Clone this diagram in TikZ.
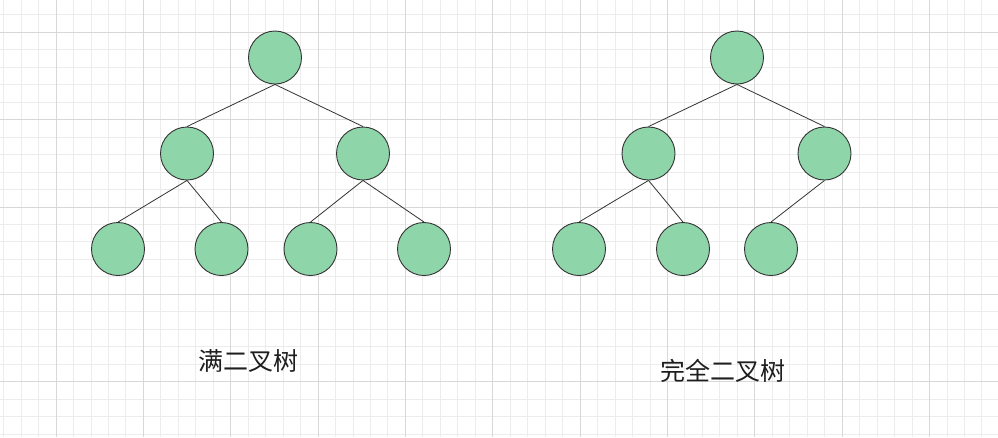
\documentclass[tikz,border=0pt]{standalone}
\usepackage{fontspec}
\newfontfamily\cjk{Noto Sans CJK SC}
\definecolor{nodefill}{RGB}{143,213,170}
\definecolor{nodeline}{RGB}{51,51,51}
\definecolor{gridminor}{RGB}{236,236,236}
\definecolor{gridmajor}{RGB}{216,216,216}
\definecolor{textcol}{RGB}{30,30,30}
\tikzset{
  tnode/.style={circle, draw=nodeline, fill=nodefill, line width=0.9pt, minimum size=53pt, inner sep=0pt},
  tedge/.style={draw=nodeline, line width=0.8pt},
  tlabel/.style={font=\cjk\fontsize{25pt}{30pt}\selectfont, text=textcol, inner sep=0pt}
}
\begin{document}
\begin{tikzpicture}[x=1pt,y=-1pt]
\useasboundingbox (0,0) rectangle (998,437);
\fill[white] (0,0) rectangle (998,437);
% grid
\foreach \i in {0,...,57} {
  \pgfmathsetmacro{\xx}{3.6+17.47*\i}
  \draw[gridminor, line width=0.9pt] (\xx,0) -- (\xx,437);
}
\foreach \i in {0,...,24} {
  \pgfmathsetmacro{\yy}{14.8+17.47*\i}
  \draw[gridminor, line width=0.9pt] (0,\yy) -- (998,\yy);
}
\foreach \i in {0,...,11} {
  \pgfmathsetmacro{\xx}{56+87.35*\i}
  \draw[gridmajor, line width=0.9pt] (\xx,0) -- (\xx,437);
}
\foreach \i in {0,...,4} {
  \pgfmathsetmacro{\yy}{32.3+87.35*\i}
  \draw[gridmajor, line width=0.9pt] (0,\yy) -- (998,\yy);
}
% full binary tree
\node[tnode] (a) at (275,57.5) {};
\node[tnode] (b) at (187,153.5) {};
\node[tnode] (c) at (363,153.5) {};
\node[tnode] (d) at (118,249) {};
\node[tnode] (e) at (221.5,249) {};
\node[tnode] (f) at (310.5,249) {};
\node[tnode] (g) at (424,249) {};
\draw[tedge] (a.south) -- (b.north);
\draw[tedge] (a.south) -- (c.north);
\draw[tedge] (b.south) -- (d.north);
\draw[tedge] (b.south) -- (e.north);
\draw[tedge] (c.south) -- (f.north);
\draw[tedge] (c.south) -- (g.north);
% complete binary tree
\node[tnode] (h) at (737,57.5) {};
\node[tnode] (i) at (648.5,153.5) {};
\node[tnode] (j) at (824.5,153.5) {};
\node[tnode] (k) at (579,249) {};
\node[tnode] (l) at (683,249) {};
\node[tnode] (m) at (771,249) {};
\draw[tedge] (h.south) -- (i.north);
\draw[tedge] (h.south) -- (j.north);
\draw[tedge] (i.south) -- (k.north);
\draw[tedge] (i.south) -- (l.north);
\draw[tedge] (j.south) -- (m.north);
% labels
\node[tlabel] (t1) at (248.5,361) {满二叉树};
\node[tlabel] (t2) at (722.5,370.5) {完全二叉树};
\end{tikzpicture}
\end{document}
